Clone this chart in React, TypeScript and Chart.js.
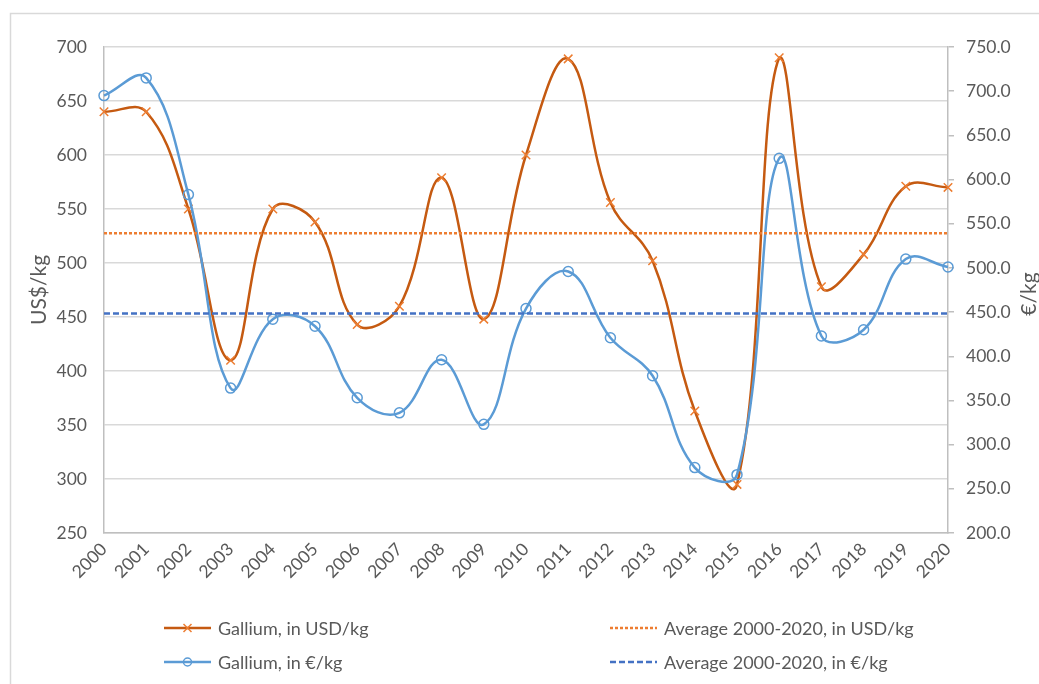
import React, { useEffect, useRef } from "react";
import { Chart, registerables } from "chart.js";

Chart.register(...registerables);

const YEARS = [
  "2000", "2001", "2002", "2003", "2004", "2005", "2006", "2007", "2008", "2009", "2010",
  "2011", "2012", "2013", "2014", "2015", "2016", "2017", "2018", "2019", "2020",
];
const GALLIUM_USD = [640, 640, 550, 410, 550, 538, 443, 460, 579, 448, 600, 689, 556, 502, 363, 295, 690, 478, 508, 571, 570];
const GALLIUM_EUR = [695, 715, 583, 364, 442, 434, 353, 336, 396, 323, 454, 496, 421, 378, 274, 266, 624, 423, 430, 510, 501];
const AVG_USD = 527.6;
const AVG_EUR = 448.5;
const USD_MIN = 250;
const USD_MAX = 700;
const EUR_MIN = 200;
const EUR_MAX = 750;
const TICK_STEP = 50;

const LABEL_USD = "Gallium, in USD/kg";
const LABEL_EUR = "Gallium, in €/kg";
const LABEL_AVG_USD = "Average 2000-2020, in USD/kg";
const LABEL_AVG_EUR = "Average 2000-2020, in €/kg";
const TITLE_LEFT = "US$/kg";
const TITLE_RIGHT = "€/kg";

const FONT = "Lato, 'Open Sans', sans-serif";
const TEXT = "#595959";
const C_USD_LINE = "#C55A11";
const C_USD_MARK = "#ED7D31";
const C_EUR = "#5B9BD5";
const C_AVG_USD = "#ED7D31";
const C_AVG_EUR = "#4472C4";

const W = 1039;
const H = 684;

const decorPlugin = {
  id: "decor",
  afterDraw(chart: any) {
    const ctx: CanvasRenderingContext2D = chart.ctx;
    const area = chart.chartArea;
    ctx.save();
    // outer frame (top + left visible)
    ctx.strokeStyle = "#d9d9d9";
    ctx.lineWidth = 1.5;
    ctx.strokeRect(10.5, 13.5, W + 20, H + 20);

    // axis titles
    ctx.fillStyle = TEXT;
    ctx.font = `21px ${FONT}`;
    ctx.textAlign = "center";
    ctx.textBaseline = "middle";
    const cy = (area.top + area.bottom) / 2;
    ctx.save();
    ctx.translate(39, cy);
    ctx.rotate(-Math.PI / 2);
    ctx.fillText(TITLE_LEFT, 0, 0);
    ctx.restore();
    ctx.save();
    ctx.translate(1029, cy + 4);
    ctx.rotate(-Math.PI / 2);
    ctx.fillText(TITLE_RIGHT, 0, 0);
    ctx.restore();

    // legend
    const items = [
      { x: 164, y: 628, label: LABEL_USD, color: C_USD_LINE, dash: [] as number[], w: 2.5, mark: "x" },
      { x: 610, y: 628, label: LABEL_AVG_USD, color: C_AVG_USD, dash: [3, 2], w: 2.5, mark: "" },
      { x: 164, y: 662, label: LABEL_EUR, color: C_EUR, dash: [] as number[], w: 2.5, mark: "o" },
      { x: 610, y: 662, label: LABEL_AVG_EUR, color: C_AVG_EUR, dash: [6, 3], w: 2.5, mark: "" },
    ];
    ctx.font = `18px ${FONT}`;
    ctx.textAlign = "left";
    for (const it of items) {
      ctx.save();
      ctx.strokeStyle = it.color;
      ctx.lineWidth = it.w;
      ctx.setLineDash(it.dash);
      ctx.beginPath();
      ctx.moveTo(it.x, it.y);
      ctx.lineTo(it.x + 47, it.y);
      ctx.stroke();
      ctx.setLineDash([]);
      const mx = it.x + 23.5;
      if (it.mark === "x") {
        ctx.strokeStyle = C_USD_MARK;
        ctx.lineWidth = 1.5;
        ctx.beginPath();
        ctx.moveTo(mx - 4, it.y - 4);
        ctx.lineTo(mx + 4, it.y + 4);
        ctx.moveTo(mx + 4, it.y - 4);
        ctx.lineTo(mx - 4, it.y + 4);
        ctx.stroke();
      } else if (it.mark === "o") {
        ctx.strokeStyle = C_EUR;
        ctx.lineWidth = 1.5;
        ctx.beginPath();
        ctx.arc(mx, it.y, 4, 0, Math.PI * 2);
        ctx.stroke();
      }
      ctx.restore();
      ctx.fillStyle = TEXT;
      ctx.fillText(it.label, it.x + 54, it.y + 1);
    }
    ctx.restore();
  },
};

export default function App() {
  const ref = useRef<HTMLCanvasElement | null>(null);

  useEffect(() => {
    if (!ref.current) return;
    const chart = new Chart(ref.current, {
      type: "line",
      data: {
        labels: YEARS,
        datasets: [
          {
            label: LABEL_AVG_USD,
            data: YEARS.map(() => AVG_USD),
            yAxisID: "y",
            borderColor: C_AVG_USD,
            borderWidth: 2.5,
            borderDash: [3, 2],
            pointRadius: 0,
            order: 0,
          },
          {
            label: LABEL_AVG_EUR,
            data: YEARS.map(() => AVG_EUR),
            yAxisID: "y1",
            borderColor: C_AVG_EUR,
            borderWidth: 2.5,
            borderDash: [6, 3],
            pointRadius: 0,
            order: 0,
          },
          {
            label: LABEL_EUR,
            data: GALLIUM_EUR,
            yAxisID: "y1",
            borderColor: C_EUR,
            borderWidth: 2.5,
            tension: 0.4,
            pointStyle: "circle",
            pointRadius: 5,
            pointBorderWidth: 1.5,
            pointBorderColor: C_EUR,
            pointBackgroundColor: "rgba(0,0,0,0)",
            order: 1,
          },
          {
            label: LABEL_USD,
            data: GALLIUM_USD,
            yAxisID: "y",
            borderColor: C_USD_LINE,
            borderWidth: 2.5,
            tension: 0.4,
            pointStyle: "crossRot",
            pointRadius: 6,
            pointBorderWidth: 1.5,
            pointBorderColor: C_USD_MARK,
            pointBackgroundColor: C_USD_MARK,
            order: 2,
          },
        ],
      },
      options: {
        responsive: false,
        animation: false,
        devicePixelRatio: 1,
        layout: { padding: { left: 10, right: 0, top: 47, bottom: 91 } },
        plugins: {
          legend: { display: false },
          tooltip: { enabled: false },
          title: { display: false },
        },
        scales: {
          x: {
            type: "category",
            grid: { display: false, drawTicks: false },
            border: { display: true, color: "#bfbfbf", width: 1.5 },
            ticks: {
              color: TEXT,
              font: { family: FONT, size: 17.5 },
              minRotation: 45,
              maxRotation: 45,
              autoSkip: false,
              padding: 6,
            },
            afterFit(s: any) {
              s.height = 60;
            },
          },
          y: {
            position: "left",
            min: USD_MIN,
            max: USD_MAX,
            grid: { color: "#d9d9d9", lineWidth: 1.5, drawTicks: false },
            border: { display: true, color: "#bfbfbf", width: 1.5 },
            ticks: {
              stepSize: TICK_STEP,
              color: TEXT,
              font: { family: FONT, size: 17.5 },
              padding: 17,
            },
            afterFit(s: any) {
              s.width = 94;
            },
          },
          y1: {
            position: "right",
            min: EUR_MIN,
            max: EUR_MAX,
            grid: { drawOnChartArea: false, drawTicks: true, tickLength: 6, color: "#bfbfbf", lineWidth: 1.5 },
            border: { display: true, color: "#bfbfbf", width: 1.5 },
            ticks: {
              stepSize: TICK_STEP,
              color: TEXT,
              font: { family: FONT, size: 17.5 },
              padding: 12,
              callback: (v: any) => Number(v).toFixed(1),
            },
            afterFit(s: any) {
              s.width = 91;
            },
          },
        },
      },
      plugins: [decorPlugin],
    } as any);
    return () => chart.destroy();
  }, []);

  return (
    <div style={{ position: "absolute", left: 0, top: 0, width: W, height: H, background: "#fff" }}>
      <canvas ref={ref} width={W} height={H} style={{ display: "block", width: W, height: H }} />
    </div>
  );
}
